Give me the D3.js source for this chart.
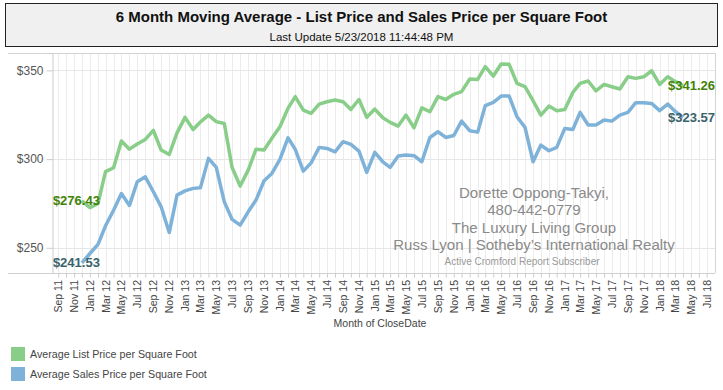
<!DOCTYPE html>
<html>
<head>
<meta charset="utf-8">
<script src="https://cdn.jsdelivr.net/npm/d3@7"></script>
<style>
  body { margin: 0; background: #fff; }
  svg text { font-family: "Liberation Sans", Arial, sans-serif; }
</style>
</head>
<body>
<div id="chart"></div>
<script>
// month of close date, Dec 2011 .. Apr 2018
const months = [
  "2011-12",
  "2012-01", "2012-02", "2012-03", "2012-04", "2012-05", "2012-06", "2012-07", "2012-08", "2012-09", "2012-10", "2012-11", "2012-12",
  "2013-01", "2013-02", "2013-03", "2013-04", "2013-05", "2013-06", "2013-07", "2013-08", "2013-09", "2013-10", "2013-11", "2013-12",
  "2014-01", "2014-02", "2014-03", "2014-04", "2014-05", "2014-06", "2014-07", "2014-08", "2014-09", "2014-10", "2014-11", "2014-12",
  "2015-01", "2015-02", "2015-03", "2015-04", "2015-05", "2015-06", "2015-07", "2015-08", "2015-09", "2015-10", "2015-11", "2015-12",
  "2016-01", "2016-02", "2016-03", "2016-04", "2016-05", "2016-06", "2016-07", "2016-08", "2016-09", "2016-10", "2016-11", "2016-12",
  "2017-01", "2017-02", "2017-03", "2017-04", "2017-05", "2017-06", "2017-07", "2017-08", "2017-09", "2017-10", "2017-11", "2017-12",
  "2018-01", "2018-02", "2018-03", "2018-04"
];

const listPrice = [
  276.43,
  272.6, 275.0, 292.9, 295.1, 310.2, 305.6, 308.5, 311.1, 316.2, 305.1, 302.6, 314.8,
  323.5, 316.7, 320.9, 324.8, 321.1, 320.1, 295.3, 284.8, 293.8, 305.6, 305.1, 311.7,
  318.2, 328.6, 335.2, 327.6, 325.8, 331.0, 332.3, 333.3, 332.3, 328.0, 333.6, 323.5,
  328.2, 323.3, 320.7, 318.6, 324.8, 317.7, 328.9, 326.7, 335.2, 333.6, 336.5, 338.0,
  345.1, 344.9, 352.1, 346.8, 353.6, 353.4, 342.7, 340.8, 332.9, 324.8, 329.9, 327.3,
  328.0, 337.6, 342.7, 344.0, 338.5, 342.1, 340.8, 339.5, 346.4, 345.5, 346.4, 349.8,
  342.1, 346.4, 343.8, 341.26
];

const salesPrice = [
  241.53,
  246.8, 251.9, 262.4, 271.2, 280.6, 273.9, 287.2, 290.0, 281.6, 273.1, 258.6, 279.7,
  282.1, 283.5, 283.8, 300.4, 295.3, 275.9, 266.0, 262.8, 270.3, 276.9, 287.8, 291.9,
  299.8, 312.0, 305.5, 293.2, 297.9, 306.6, 306.0, 304.1, 309.8, 308.3, 304.5, 292.5,
  303.8, 298.5, 295.3, 301.7, 302.3, 301.9, 298.5, 312.2, 315.4, 312.2, 313.3, 321.4,
  316.0, 315.2, 330.1, 332.0, 335.5, 335.5, 323.9, 317.9, 298.5, 307.9, 304.7, 306.6,
  317.3, 316.7, 326.3, 319.2, 319.2, 322.0, 321.4, 324.8, 326.3, 331.8, 331.8, 331.4,
  327.3, 331.0, 327.0, 323.57
];

const yTicks = [250, 300, 350];
const seriesNames = ["Average List Price per Square Foot", "Average Sales Price per Square Foot"];
const lineColors = ["#88cd88", "#7eb2d9"];
const labelColors = ["#3f8206", "#39626a"];

const titleText = "6 Month Moving Average - List Price and Sales Price per Square Foot";
const subtitleText = "Last Update 5/23/2018 11:44:48 PM";
const xAxisTitle = "Month of CloseDate";
const watermark = ["Dorette Oppong-Takyi,", "480-442-0779", "The Luxury Living Group", "Russ Lyon | Sotheby\u2019s International Realty"];
const watermarkSmall = "Active Cromford Report Subscriber";

const width = 723, height = 390;
const plot = { left: 52, right: 715, top: 53, bottom: 273 };

const parseMonth = d3.timeParse("%Y-%m");
const dates = months.map(parseMonth);

const svg = d3.select("#chart")
  .append("svg")
  .attr("width", width)
  .attr("height", height);

// title box
svg.append("rect")
  .attr("x", 5.5).attr("y", 3.5)
  .attr("width", 712).attr("height", 43)
  .attr("fill", "#f0f0f0")
  .attr("stroke", "#222");

svg.append("text")
  .attr("x", width / 2).attr("y", 22)
  .attr("text-anchor", "middle")
  .attr("font-size", "15px")
  .attr("font-weight", "bold")
  .attr("fill", "#111")
  .text(titleText);

svg.append("text")
  .attr("x", width / 2).attr("y", 41)
  .attr("text-anchor", "middle")
  .attr("font-size", "11.5px")
  .attr("fill", "#111")
  .text(subtitleText);

// scales
const x = d3.scaleTime()
  .domain([new Date(2011, 7, 8), new Date(2018, 7, 2)])
  .range([plot.left, plot.right]);

const y = d3.scaleLinear()
  .domain([235.8, 359.8])
  .range([plot.bottom, plot.top]);

// monthly vertical grid
const gridMonths = d3.timeMonth.range(new Date(2011, 8, 1), new Date(2018, 7, 1));
svg.append("g")
  .selectAll("line")
  .data(gridMonths)
  .join("line")
  .attr("x1", d => Math.round(x(d)) + 0.5)
  .attr("x2", d => Math.round(x(d)) + 0.5)
  .attr("y1", plot.top)
  .attr("y2", plot.bottom)
  .attr("stroke", "#ececec");

// horizontal grid
svg.append("g")
  .selectAll("line")
  .data(yTicks)
  .join("line")
  .attr("x1", plot.left)
  .attr("x2", plot.right)
  .attr("y1", d => Math.round(y(d)) + 0.5)
  .attr("y2", d => Math.round(y(d)) + 0.5)
  .attr("stroke", "#e6e6e6");

// frame
const frame = svg.append("g").attr("stroke", "#d4d4d4").attr("fill", "none");
frame.append("line").attr("x1", 8).attr("x2", plot.right).attr("y1", plot.top + 0.5).attr("y2", plot.top + 0.5);
frame.append("line").attr("x1", plot.right + 0.5).attr("x2", plot.right + 0.5).attr("y1", plot.top).attr("y2", plot.bottom);

// y axis
const yAxis = svg.append("g")
  .attr("transform", `translate(${plot.left + 0.5},0)`)
  .call(d3.axisLeft(y).tickValues(yTicks).tickSize(6).tickPadding(3).tickFormat(d => "$" + d));
yAxis.select(".domain").attr("stroke", "#cccccc");
yAxis.selectAll(".tick line").attr("stroke", "#cccccc");
yAxis.selectAll(".tick text")
  .attr("font-family", "Liberation Sans, Arial, sans-serif")
  .attr("font-size", "12px")
  .attr("fill", "#555");

// x axis: a tick every month, a label every two months
const xAxisG = svg.append("g")
  .attr("transform", `translate(0,${plot.bottom + 0.5})`)
  .call(d3.axisBottom(x).tickValues(gridMonths).tickSize(4).tickFormat(""));
xAxisG.select(".domain").remove();
xAxisG.selectAll(".tick line").attr("stroke", "#cccccc");

svg.append("line")
  .attr("x1", 8).attr("x2", plot.right)
  .attr("y1", plot.bottom + 0.5).attr("y2", plot.bottom + 0.5)
  .attr("stroke", "#d0d0d0");

const labelMonths = gridMonths.filter(d => d.getMonth() % 2 === 0);
const fmt = d3.timeFormat("%b %y");
svg.append("g")
  .selectAll("text")
  .data(labelMonths)
  .join("text")
  .attr("transform", d => `translate(${x(d) + 4},${plot.bottom + 7}) rotate(-90)`)
  .attr("text-anchor", "end")
  .attr("font-size", "10.5px")
  .attr("fill", "#444")
  .text(d => fmt(d));

svg.append("text")
  .attr("x", 380).attr("y", 327)
  .attr("text-anchor", "middle")
  .attr("font-size", "10.5px")
  .attr("fill", "#444")
  .text(xAxisTitle);

// watermark
svg.append("g")
  .selectAll("text")
  .data(watermark)
  .join("text")
  .attr("x", 534)
  .attr("y", (d, i) => 198 + i * 17.3)
  .attr("text-anchor", "middle")
  .attr("font-size", "15px")
  .attr("fill", "#8a8a8a")
  .text(d => d);

svg.append("text")
  .attr("x", 522).attr("y", 265)
  .attr("text-anchor", "middle")
  .attr("font-size", "10px")
  .attr("fill", "#999")
  .text(watermarkSmall);

// lines
const series = [listPrice, salesPrice];
const line = d3.line()
  .x((d, i) => x(dates[i]))
  .y(d => y(d));

svg.append("g")
  .selectAll("path")
  .data(series)
  .join("path")
  .attr("d", d => line(d))
  .attr("fill", "none")
  .attr("stroke", (d, i) => lineColors[i])
  .attr("stroke-width", 3.5)
  .attr("stroke-linejoin", "round");

// first / last value labels
const money = d3.format(",.2f");
series.forEach((vals, i) => {
  const n = vals.length - 1;
  svg.append("text")
    .attr("x", x(dates[0]) + 18)
    .attr("y", y(vals[0]))
    .attr("dy", "0.35em")
    .attr("text-anchor", "end")
    .attr("font-size", "13px")
    .attr("font-weight", "bold")
    .attr("fill", labelColors[i])
    .text("$" + money(vals[0]));
  svg.append("text")
    .attr("x", x(dates[n]) - 15)
    .attr("y", y(vals[n]))
    .attr("dy", "0.35em")
    .attr("text-anchor", "start")
    .attr("font-size", "13px")
    .attr("font-weight", "bold")
    .attr("fill", labelColors[i])
    .text("$" + money(vals[n]));
});

// legend
const legend = svg.append("g")
  .selectAll("g")
  .data(seriesNames)
  .join("g")
  .attr("transform", (d, i) => `translate(11,${347 + i * 20})`);
legend.append("rect")
  .attr("width", 14).attr("height", 14)
  .attr("fill", (d, i) => lineColors[i]);
legend.append("text")
  .attr("x", 19).attr("y", 7)
  .attr("dy", "0.35em")
  .attr("font-size", "10.7px")
  .attr("fill", "#444")
  .text(d => d);
</script>
</body>
</html>
